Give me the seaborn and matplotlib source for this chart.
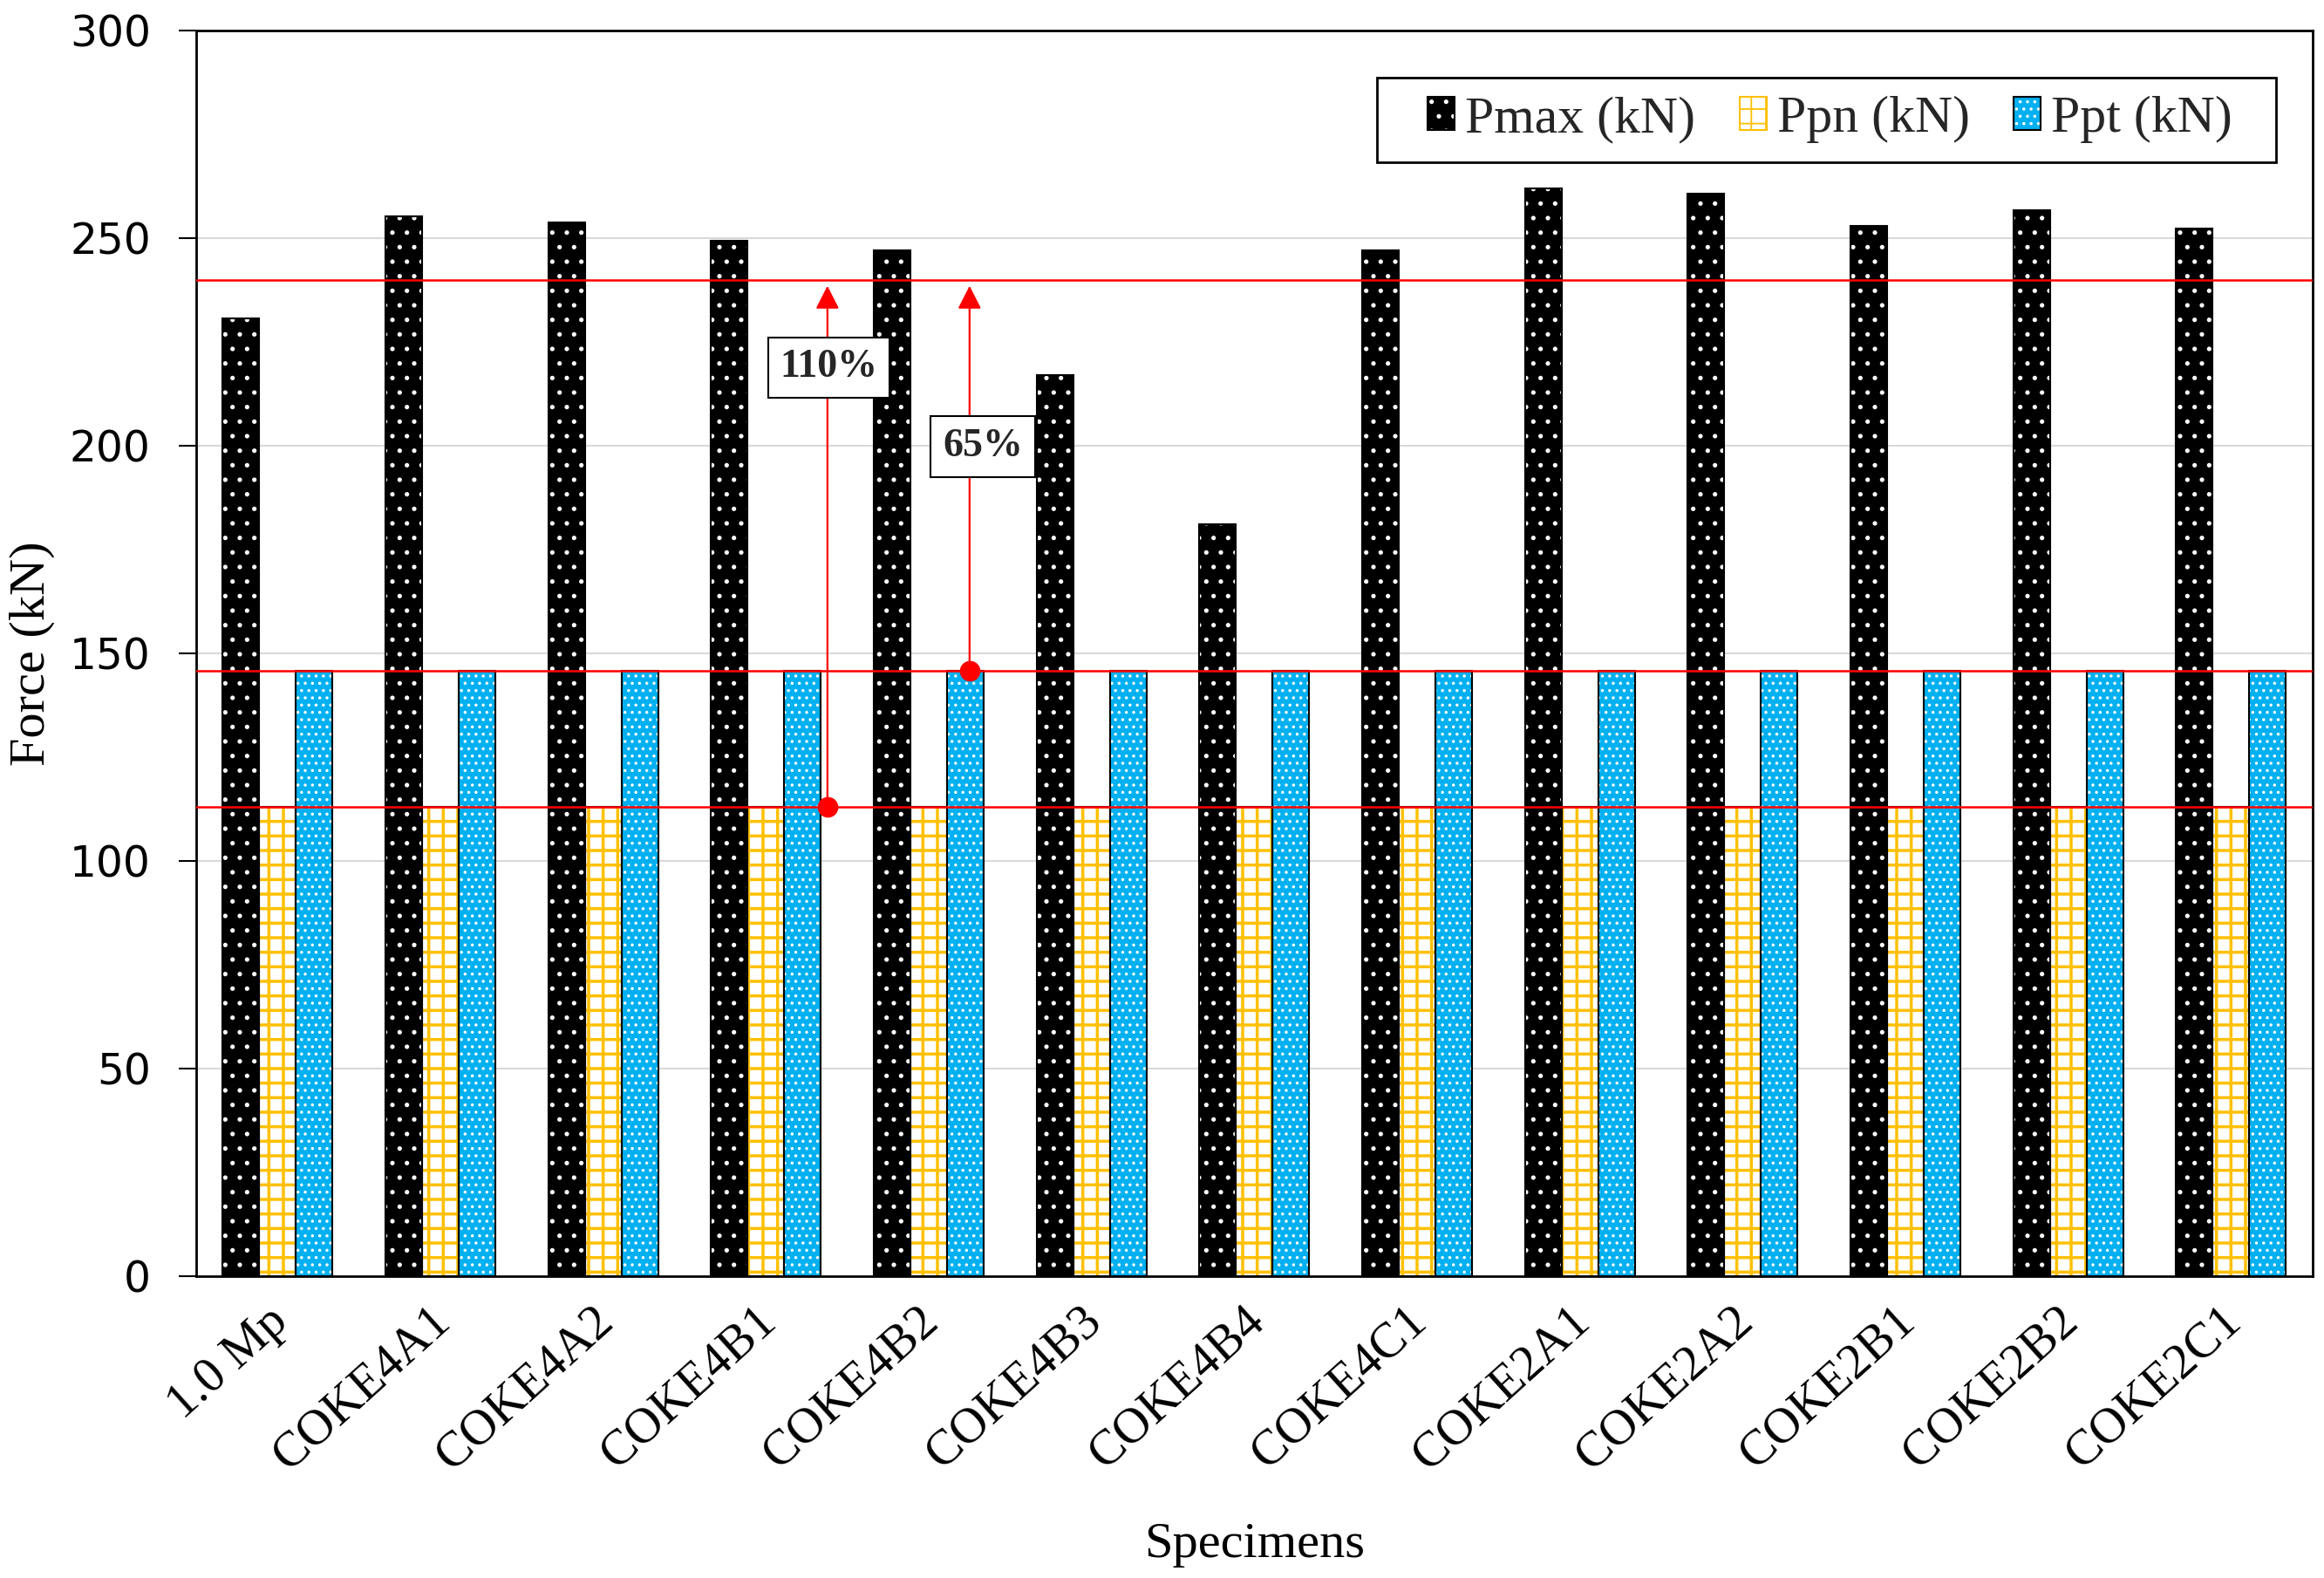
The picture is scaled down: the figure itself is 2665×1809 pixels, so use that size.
import matplotlib
matplotlib.use("Agg")
import seaborn as sns
import matplotlib.pyplot as plt
import matplotlib.transforms as mtransforms
import pandas as pd
from matplotlib.patches import Patch, Rectangle
from matplotlib.legend_handler import HandlerTuple

sns.set_theme(style="white")
plt.rcParams['font.family'] = ['Liberation Serif', 'DejaVu Serif']
plt.rcParams['hatch.linewidth'] = 1.3

# values
specimens = ["1.0 Mp", "COKE4A1", "COKE4A2", "COKE4B1", "COKE4B2", "COKE4B3", "COKE4B4",
             "COKE4C1", "COKE2A1", "COKE2A2", "COKE2B1", "COKE2B2", "COKE2C1"]
pmax = [230.7, 255.3, 253.8, 249.4, 247.1, 217.0, 181.0, 247.0, 262.0, 260.6, 252.9, 256.7, 252.2]
ppn = [113.0, 113.0, 113.0, 113.0, 113.0, 113.0, 113.0, 113.0, 113.0, 113.0, 113.0, 113.0, 113.0]
ppt = [145.8, 145.8, 145.8, 145.8, 145.8, 145.8, 145.8, 145.8, 145.8, 145.8, 145.8, 145.8, 145.8]
target = 240.0
series = ["Pmax (kN)", "Ppn (kN)", "Ppt (kN)"]

# annotations: label, arrow x, arrow base, label position
notes = ["110%", "65%"]
note_x = [3.378, 4.251]
note_base = [ppn[3], ppt[4]]
note_lab_x = [3.386, 4.332]
note_lab_y = [218.8, 199.8]
note_pad = [0.3, 0.3]
arrow_top = 238.5

df = pd.DataFrame({
    "Specimen": specimens * 3,
    "Force": pmax + ppn + ppt,
    "Series": [s for s in series for _ in specimens],
})

fig, ax = plt.subplots(figsize=(26.65, 18.09), dpi=100)
fig.subplots_adjust(left=0.0844, right=0.995, top=0.9807, bottom=0.1913)

sns.barplot(data=df, x="Specimen", y="Force", hue="Series",
            palette=["black", "#FFC000", "#00B0F0"], width=0.675, gap=0,
            saturation=1, legend=False, ax=ax, zorder=2)

# per-artist hatch width only exists in newer matplotlib
per_artist_hatch = hasattr(Rectangle((0, 0), 1, 1), "set_hatch_linewidth")

# face, hatch colour, hatch, outline
styles = [("black", "white", ".", "black"),
          ("white", "#FFC000", "+" if per_artist_hatch else "++", "black"),
          ("#00B0F0", "white", "..", "black")]
hatch_lw = [1.3, 2.5, 1.3]

for container, (fc, hc, hatch, oc), hl in zip(ax.containers, styles, hatch_lw):
    for bar in container:
        bar.set_facecolor(fc)
        bar.set_edgecolor(hc)
        bar.set_hatch(hatch)
        bar.set_linewidth(0)
        if per_artist_hatch:
            bar.set_hatch_linewidth(hl)
        ax.add_patch(Rectangle(bar.get_xy(), bar.get_width(), bar.get_height(),
                               fill=False, edgecolor=oc, lw=1.5, zorder=2.1))

# reference lines
for level in [target, ppt[0], ppn[0]]:
    ax.axhline(level, color="red", lw=1.8, zorder=3)

for lab, x, base, lx, ly, pd_ in zip(notes, note_x, note_base, note_lab_x, note_lab_y, note_pad):
    ax.annotate("", xy=(x, arrow_top), xytext=(x, base),
                arrowprops=dict(arrowstyle="-|>,head_length=0.65,head_width=0.33",
                                color="red", lw=1.6, mutation_scale=25,
                                shrinkA=0, shrinkB=0), zorder=4)
    ax.plot([x], [base], "o", color="red", ms=16, zorder=4)
    ax.text(lx, ly, lab, ha="center", va="center", fontsize=33, fontweight="bold",
            zorder=5, bbox=dict(boxstyle=f"square,pad={pd_}", fc="white", ec="black", lw=1.5))

ax.set_xlim(-0.5, 12.5)
ax.set_ylim(0, 300)
ax.set_yticks(range(0, 301, 50))
ax.yaxis.grid(True, color="#D9D9D9", lw=1.5)
ax.xaxis.grid(False)
ax.set_axisbelow(True)

for sp in ax.spines.values():
    sp.set_visible(True)
    sp.set_color("black")
    sp.set_linewidth(2)

ax.tick_params(axis="y", left=True, length=14.5, width=1.5, pad=23, labelsize=35,
               labelfontfamily="DejaVu Sans", colors="black")
ax.tick_params(axis="x", bottom=False, length=0, pad=18, labelsize=41, colors="black")
shift = mtransforms.ScaledTranslation(-0.13, 0, fig.dpi_scale_trans)
for lbl in ax.get_xticklabels():
    lbl.set_rotation(42)
    lbl.set_ha("right")
    lbl.set_rotation_mode("anchor")
    lbl.set_transform(lbl.get_transform() + shift)

ax.set_xlabel("Specimens", fontsize=42, color="black")
ax.set_ylabel("Force (kN)", fontsize=42, color="black")
ax.xaxis.set_label_coords(0.5, -0.2157)
ax.xaxis.label.set_va("center")
ax.yaxis.set_label_coords(-0.0775, 0.5)
ax.yaxis.label.set_va("center")

# legend box drawn separately so the side padding can be wider than the top one
ax.add_patch(Rectangle((0.558, 0.894), 0.425, 0.068, transform=ax.transAxes,
                       fc="white", ec="black", lw=2, zorder=6))
handles = []
for (fc, hc, hatch, oc), edge in zip(styles, ["black", "#FFC000", "black"]):
    handles.append((Patch(facecolor=fc, edgecolor=hc, hatch=hatch, lw=0),
                    Patch(fill=False, edgecolor=edge, lw=1.5)))
leg = ax.legend(handles, series, handler_map={tuple: HandlerTuple(ndivide=1, pad=0)},
                loc="center", bbox_to_anchor=(0.772, 0.9286), ncol=3, fontsize=43,
                frameon=False, borderaxespad=0, handlelength=0.52, handleheight=0.62,
                handletextpad=0.2, columnspacing=0.85, borderpad=0)
leg.set_zorder(7)

fig.savefig("out.png", dpi=100)
